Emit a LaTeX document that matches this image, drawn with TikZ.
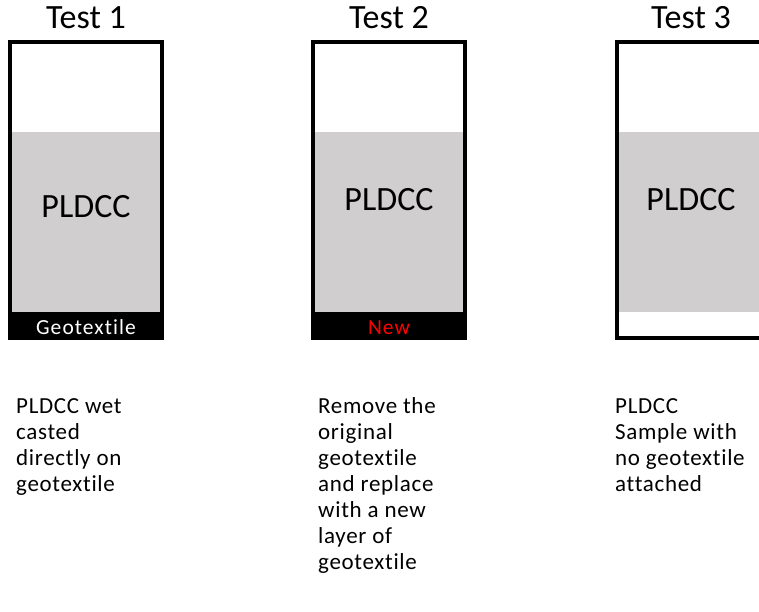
\documentclass[tikz,border=0pt]{standalone}
\usepackage{fontspec}
\setmainfont{Carlito}[Ligatures=NoCommon]
\newfontfamily\spacedfont{Carlito}[Ligatures=NoCommon,LetterSpace=3]
\newfontfamily\barfont{Carlito}[Ligatures=NoCommon,LetterSpace=5]
\definecolor{pgray}{HTML}{D0CECE}
\definecolor{newred}{HTML}{FF0000}
\tikzset{
  title/.style={inner sep=0pt, font=\fontsize{34}{40}\selectfont},
  core/.style={inner sep=0pt, font=\fontsize{34}{40}\selectfont},
  bartext/.style={inner sep=0pt, anchor=base, font=\barfont\fontsize{21.5}{25}\selectfont},
  caption/.style={inner sep=0pt, anchor=base west, align=left, font=\spacedfont\fontsize{23}{26}\selectfont},
  frame/.style={draw=black, line width=4pt},
}
\begin{document}
\begin{tikzpicture}[x=1pt,y=-1pt]
\useasboundingbox (0,0) rectangle (759,611);
\clip (0,0) rectangle (759,611);
% Test 1
\fill[pgray] (10,132) rectangle (162,312);
\fill[black] (8,312) rectangle (164,340);
\draw[frame] (10,42) rectangle (162,338);
\node[title] (t1) at (86,18) {Test 1};
\node[core] (c1) at (86,207) {PLDCC};
\node[bartext, text=white] (g1) at (86,334) {Geotextile};
\node[caption] (d1) at (16,491) {PLDCC wet\\casted\\directly on\\geotextile};
% Test 2
\fill[pgray] (313,132) rectangle (465,312);
\fill[black] (311,312) rectangle (467,340);
\draw[frame] (313,42) rectangle (465,338);
\node[title] (t2) at (389,18) {Test 2};
\node[core] (c2) at (389,200) {PLDCC};
\node[bartext, text=newred] (g2) at (389,334) {New};
\node[caption] (d2) at (318,569) {Remove the\\original\\geotextile\\and replace\\with a new\\layer of\\geotextile};
% Test 3
\fill[pgray] (617,132) rectangle (775,312);
\draw[frame] (617,42) rectangle (775,338);
\node[title] (t3) at (691,18) {Test 3};
\node[core] (c3) at (691,200) {PLDCC};
\node[caption] (d3) at (615,491) {PLDCC\\Sample with\\no geotextile\\attached};
\end{tikzpicture}
\end{document}
